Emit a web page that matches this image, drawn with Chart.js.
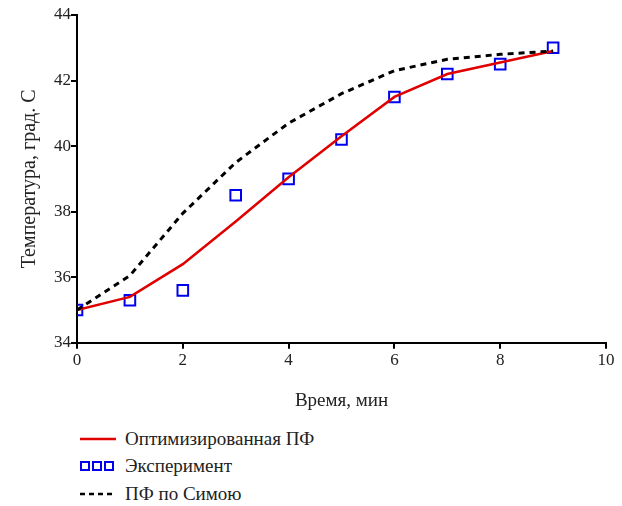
<!DOCTYPE html>
<html>
<head>
<meta charset="utf-8">
<script src="https://cdn.jsdelivr.net/npm/chart.js@4"></script>
<style>
  body { margin: 0; background: #fff; }
  #wrap { position: relative; width: 622px; height: 506px; }
  #box { position: absolute; left: 0; top: 0; width: 622px; height: 420px; }
  .leg { position: absolute; left: 80px; font: 19px "Liberation Serif", "Times New Roman", serif; color: #222; display: flex; align-items: center; white-space: nowrap; }
  .leg svg { margin-right: 9px; }
</style>
</head>
<body>
<div id="wrap">
  <div id="box"><canvas id="chart1"></canvas></div>
  <div class="leg" style="top:428px">
    <svg width="36" height="10"><line x1="0" y1="5" x2="36" y2="5" stroke="#e00000" stroke-width="2.5"/></svg>Оптимизированная ПФ
  </div>
  <div class="leg" style="top:455px">
    <svg width="36" height="12"><rect x="1" y="2" width="8" height="8" fill="none" stroke="#0000ee" stroke-width="2"/><rect x="13" y="2" width="8" height="8" fill="none" stroke="#0000ee" stroke-width="2"/><rect x="25" y="2" width="8" height="8" fill="none" stroke="#0000ee" stroke-width="2"/></svg>Эксперимент
  </div>
  <div class="leg" style="top:483px">
    <svg width="36" height="10"><line x1="0" y1="5" x2="36" y2="5" stroke="#000" stroke-width="2.5" stroke-dasharray="5,4"/></svg>ПФ по Симою
  </div>
</div>
<script>
const vremya = [0, 1, 2, 3, 4, 5, 6, 7, 8, 9]
const optimizirovannaya = [35.0, 35.4, 36.4, 37.7, 39.05, 40.3, 41.5, 42.2, 42.55, 42.9]
const eksperiment = [35.0, 35.3, 35.6, 38.5, 39.0, 40.2, 41.5, 42.2, 42.5, 43.0]
const poSimoyu = [35.0, 36.05, 37.95, 39.5, 40.7, 41.6, 42.3, 42.65, 42.8, 42.9]

const xTicks = [0, 2, 4, 6, 8, 10]
const yTicks = [34, 36, 38, 40, 42, 44]

const font = '"Liberation Serif", "Times New Roman", serif'
Chart.defaults.font.family = font

function pary(ys) {
  return vremya.map((x, i) => ({ x: x, y: ys[i] }))
}

const ctx = document.getElementById('chart1').getContext('2d')

new Chart(ctx, {
  type: 'line',
  data: {
    datasets: [{
      label: 'ПФ по Симою',
      data: pary(poSimoyu),
      borderColor: '#000',
      borderWidth: 3,
      borderDash: [6, 5],
      pointRadius: 0,
      tension: 0,
      fill: false
    }, {
      label: 'Оптимизированная ПФ',
      data: pary(optimizirovannaya),
      borderColor: '#e00000',
      borderWidth: 2.5,
      pointRadius: 0,
      tension: 0,
      fill: false
    }, {
      label: 'Эксперимент',
      data: pary(eksperiment),
      showLine: false,
      pointStyle: 'rect',
      pointRadius: 7.5,
      borderColor: '#0000ee',
      backgroundColor: 'rgba(0,0,0,0)',
      pointBorderWidth: 2
    }]
  },
  options: {
    responsive: true,
    maintainAspectRatio: false,
    animation: false,
    layout: { padding: { top: 15, right: 16, left: 14, bottom: 4 } },
    plugins: {
      legend: { display: false },
      tooltip: { enabled: false }
    },
    scales: {
      x: {
        type: 'linear',
        min: 0,
        max: 10,
        afterBuildTicks: axis => { axis.ticks = xTicks.map(v => ({ value: v })) },
        grid: { drawOnChartArea: false, color: '#000', lineWidth: 2, tickLength: 6 },
        border: { color: '#000', width: 2 },
        ticks: { color: '#222', font: { family: font, size: 17 }, padding: 2, maxRotation: 0 },
        title: { display: true, text: 'Время, мин', color: '#222', font: { family: font, size: 19 }, padding: { top: 16 } }
      },
      y: {
        min: 34,
        max: 44,
        afterBuildTicks: axis => { axis.ticks = yTicks.map(v => ({ value: v })) },
        grid: { drawOnChartArea: false, color: '#000', lineWidth: 2, tickLength: 6 },
        border: { color: '#000', width: 2 },
        ticks: { color: '#222', font: { family: font, size: 17 }, padding: 0 },
        title: { display: true, text: 'Температура, град. С', color: '#222', font: { family: font, size: 20 }, padding: { bottom: 12 } }
      }
    }
  }
})
</script>
</body>
</html>
